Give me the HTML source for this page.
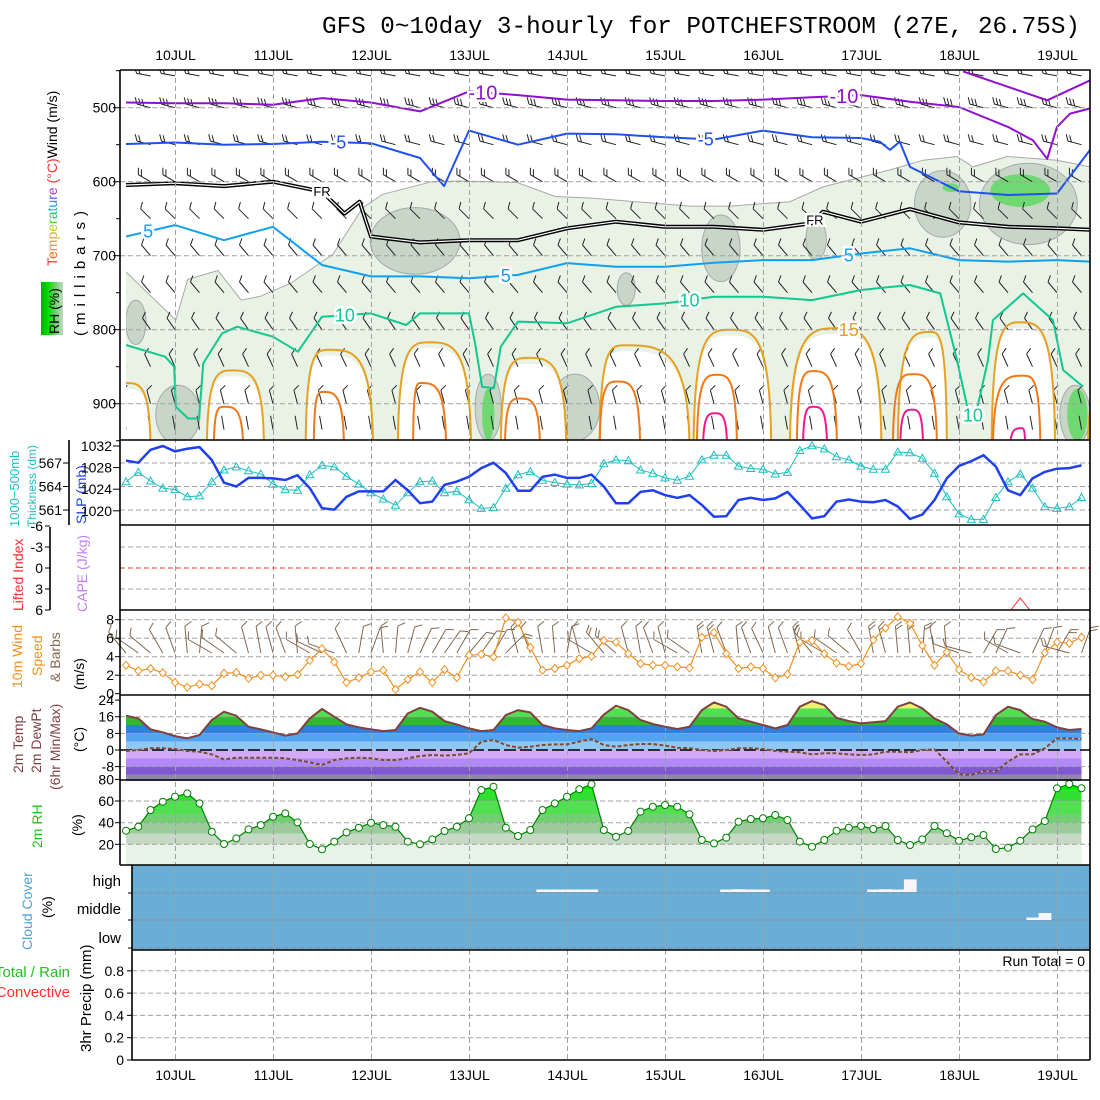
<!DOCTYPE html>
<html><head><meta charset="utf-8">
<style>
body{margin:0;background:#fff;}
svg{display:block;font-family:"Liberation Sans",sans-serif;}
</style></head>
<body>
<svg id="c" width="1100" height="1100" viewBox="0 0 1100 1100" xmlns="http://www.w3.org/2000/svg">
<defs>
  <clipPath id="uclip"><rect x="126" y="70" width="964" height="370"/></clipPath>
  <clipPath id="slpclip"><rect x="120" y="440" width="970" height="85"/></clipPath>
  <clipPath id="liclip"><rect x="120" y="525" width="970" height="85"/></clipPath>
  <linearGradient id="rhg" x1="0" y1="0" x2="1" y2="0">
    <stop offset="0" stop-color="#00b000"/><stop offset="0.35" stop-color="#00e000"/>
    <stop offset="0.65" stop-color="#70d070"/><stop offset="1" stop-color="#c4d8c4"/>
  </linearGradient>
</defs>
<rect x="0" y="0" width="1100" height="1100" fill="#fff"/>
<text x="322" y="33" font-family="'Liberation Mono',monospace" font-size="24" textLength="758" lengthAdjust="spacingAndGlyphs">GFS 0~10day 3-hourly for POTCHEFSTROOM (27E, 26.75S)</text>

<g id="upper"></g>
<g id="lower"></g>
<g id="grid"></g>
<g id="marks"></g>
<g id="frames" fill="none" stroke="#000" stroke-width="1.6">
  <path d="M120,70H1090V1060M120,70V865M120,440H1090M120,525H1090M120,610H1090M120,695H1090M120,780H1090M120,865H1090M132,865V1060H1090M132,950H1090"/>
  <path d="M69,440V525M50,527V610"/>
</g>
<g id="labels" font-size="14">
  <text transform="translate(57,266) rotate(-90)"><tspan fill="#ff3030">T</tspan><tspan fill="#ff6020">e</tspan><tspan fill="#ff9020">m</tspan><tspan fill="#e0b020">p</tspan><tspan fill="#b8d020">e</tspan><tspan fill="#60d040">r</tspan><tspan fill="#20c070">a</tspan><tspan fill="#20b8c8">t</tspan><tspan fill="#2090f0">u</tspan><tspan fill="#5060f0">r</tspan><tspan fill="#a040e0">e</tspan><tspan fill="#ff3030"> (°C)</tspan><tspan fill="#000">Wind (m/s)</tspan></text>
  <rect x="41" y="282" width="22" height="53" fill="url(#rhg)"/>
  <text transform="translate(59,334) rotate(-90)">RH (%)</text>
  <text transform="translate(85,336) rotate(-90)" font-size="15" letter-spacing="6">(millibars)</text>
  <text transform="translate(19,527) rotate(-90)" fill="#20c0c0" font-size="13">1000−500mb</text>
  <text transform="translate(36,527) rotate(-90)" fill="#20c0c0" font-size="12">Thickness (dm)</text>
  <text transform="translate(86,524) rotate(-90)" fill="#2040f0" font-size="14">SLP (mb)</text>
  <text transform="translate(23,611) rotate(-90)" fill="#ff3030">Lifted Index</text>
  <text transform="translate(87,612) rotate(-90)" fill="#c080f0">CAPE (J/kg)</text>
  <text transform="translate(22,688) rotate(-90)" fill="#f09020">10m Wind</text>
  <text transform="translate(42,676) rotate(-90)" fill="#f09020">Speed</text>
  <text transform="translate(60,682) rotate(-90)" fill="#806850">&amp; Barbs</text>
  <text transform="translate(84,690) rotate(-90)">(m/s)</text>
  <text transform="translate(23,773) rotate(-90)" fill="#804040">2m Temp</text>
  <text transform="translate(41,773) rotate(-90)" fill="#804040">2m DewPt</text>
  <text transform="translate(60,790) rotate(-90)" fill="#804040">(6hr Min/Max)</text>
  <text transform="translate(84,752) rotate(-90)">(°C)</text>
  <text transform="translate(42,848) rotate(-90)" fill="#20c020">2m RH</text>
  <text transform="translate(82,836) rotate(-90)">(%)</text>
  <text transform="translate(32,950) rotate(-90)" fill="#50a0d0">Cloud Cover</text>
  <text transform="translate(52,918) rotate(-90)">(%)</text>
  <text x="121" y="886" text-anchor="end" font-size="15">high</text>
  <text x="121" y="914" text-anchor="end" font-size="15">middle</text>
  <text x="121" y="943" text-anchor="end" font-size="15">low</text>
  <text x="70" y="977" text-anchor="end" font-size="15" fill="#20c020">Total / Rain</text>
  <text x="70" y="997" text-anchor="end" font-size="15" fill="#ff3030">Convective</text>
  <text transform="translate(91,1052) rotate(-90)" font-size="15">3hr Precip (mm)</text>
  <text x="1085" y="966" text-anchor="end" font-size="14">Run Total = 0</text>
</g>
<g id="ticks" font-size="14"></g>
</svg>
<script>
// ---------- data ----------
const dates = ["10JUL","11JUL","12JUL","13JUL","14JUL","15JUL","16JUL","17JUL","18JUL","19JUL"];
const slp = [1029.3,1028.9,1031.3,1032,1031,1031.5,1031.8,1029.4,1025.2,1024.5,1026.1,1026.1,1026,1025.7,1026.6,1024.2,1020.5,1020.2,1022.6,1023.6,1023.6,1023.6,1025.7,1023.8,1021.4,1021.7,1024.8,1025.4,1026.3,1027.9,1028.9,1027,1023.7,1023.7,1026.3,1026.7,1026.1,1026.1,1026.7,1024.5,1021.4,1021.4,1023.5,1023.8,1022.9,1022.4,1022.9,1021.1,1018.9,1019,1022,1022.4,1022,1022.3,1023.5,1021.1,1018.6,1019,1021.7,1022.1,1021.7,1021.6,1022,1020.8,1018.5,1019.3,1022,1026,1028.3,1029.2,1030.3,1028.2,1023.8,1022.9,1026,1027.2,1027.8,1027.9,1028.4];
const thick = [564.6,565.8,564.7,563.8,563.6,562.7,562.8,564.6,566.1,566.5,566,565.6,564.3,563.6,563.5,565.5,566.7,566.5,565.3,564.3,563.2,562.4,561.6,563.2,564.6,564.7,563.2,563.4,562.3,561.2,561.3,563.8,565.5,565.9,564.8,564.5,564.3,564.2,564.4,566.9,567.4,567.3,566.1,565.7,565.1,564.8,565.3,567.4,568,568,566.6,566.3,566.2,565.6,565.8,568.6,569.2,568.8,567.8,567.4,566.6,566.2,566.2,568.4,568.3,567.6,565.7,562.7,560.5,559.8,559.8,562.6,564.6,565.6,563.8,561.4,561.2,561.4,562.6];
const liftedIndex = [9,9,9,9,9,9,9,9,9,9,9,9,9,9,9,9,9,9,9,9,9,9,9,9,9,9,9,9,9,9,9,9,9,9,9,9,9,9,9,9,9,9,9,9,9,9,9,9,9,9,9,9,9,9,9,9,9,9,9,9,9,9,9,9,9,9,9,9,9,9,9,9,6.5,4.3,6.5,9,9,9,9];
const wind10 = [3.08,2.48,2.72,2.26,1.22,0.69,1.04,0.86,2.19,2.29,1.65,2.0,2.0,1.83,2.08,3.6,4.86,3.44,1.22,1.72,2.36,2.54,0.46,1.54,2.36,1.22,2.61,1.75,4.15,4.26,3.97,8.2,7.7,5.0,2.54,2.72,3.08,3.79,4.04,5.75,5.57,4.32,3.25,3.08,3.08,2.9,2.79,6.1,6.6,4.32,2.72,2.9,2.72,1.72,2.11,5.57,5.75,4.32,3.32,2.97,3.25,5.82,7.1,8.3,7.6,5.2,3.08,4.5,2.61,1.75,1.29,2.47,2.47,2.0,1.54,4.43,5.57,5.46,6.1];
const windDir10 = [320,305,310,330,340,355,5,300,305,310,345,350,345,340,355,300,295,290,335,10,20,355,5,15,25,30,35,30,40,35,30,45,345,340,350,355,10,345,300,320,310,345,350,340,345,300,305,350,345,340,355,340,335,345,340,345,320,300,305,310,330,350,345,355,355,5,350,355,290,285,30,25,300,290,25,20,30,285,20];
const temp2m = [16.5,15.2,9.9,8.5,6.7,5.6,7.2,14.4,18.4,16.5,11.2,9.9,8.5,6.9,8,15.2,19.7,16,12.3,10.9,9.9,9.1,9.6,17.6,20.3,18.4,13.9,12.3,10.4,9.1,9.6,16.8,19.2,18.1,12,10.4,9.6,9.1,10.4,17,21.3,19.2,14.4,12.5,11.2,10.1,11.2,19.2,22.9,20.8,15.2,13.6,12,10.4,12,20.8,23.5,21.6,15.5,13.9,12.8,13.3,13.9,20.8,22.9,20,15.2,12.3,8,6.9,7.5,16.8,20.8,19.2,14.9,13.6,10.9,9.6,10.1];
const dewpt2m = [-0.5,0,0.8,0.8,0.5,-0.5,-0.8,-2.1,-4.5,-3.7,-3.7,-3.7,-3.7,-4,-4.8,-5.9,-7.2,-4.8,-4,-3.7,-4,-4.8,-4.8,-4,-2.9,-2.4,-2.7,-2.4,-1.6,4,4.8,2.4,1.1,1.6,2.4,2.7,2.7,4,5.3,2.4,1.6,2.4,2.9,2.9,2.1,1.1,0.8,0,-0.5,0,0.8,0.8,0.5,-0.5,-0.8,-1.1,-2.1,-1.6,-1.6,-2.1,-2.4,-2.1,-0.8,-0.8,-1.1,0,0.3,-5.6,-11.7,-12,-10.1,-10.4,-5.6,-2.1,-2.1,0.8,5.6,5.6,5.3];
const rh2m = [32.6,36.3,51.7,59.4,64,67,57.8,31.7,20.3,25.5,33.8,37.8,45.5,48.6,40.3,20.3,15.4,22.5,31,35.4,40,37.8,36.3,22.5,20,24.6,32.3,36.3,44,70.2,73.2,35.4,27.7,33.2,51.7,57.8,64,70.8,75.4,33.2,27.1,32.3,50.2,54.8,56.3,54.8,47.7,24,20.9,26.2,40.9,43.4,44,47.1,42.5,22.5,17.8,24,32.6,35.4,36.9,34.2,36.9,24,19.4,24.6,36.9,30.2,23.4,26.5,28.6,15.7,16.9,23.4,33.8,41.5,71.7,75.7,71.7];
const highCloud = [0,0,0,0,0,0,0,0,0,0,0,0,0,0,0,0,0,0,0,0,0,0,0,0,0,0,0,0,0,0,0,0,0,0,5,5,5,5,5,0,0,0,0,0,0,0,0,0,0,5,10,5,5,0,0,0,0,0,0,0,0,5,10,5,45,0,0,0,0,0,0,0,0,0,0,0,0,0,0];
const midCloud = [0,0,0,0,0,0,0,0,0,0,0,0,0,0,0,0,0,0,0,0,0,0,0,0,0,0,0,0,0,0,0,0,0,0,0,0,0,0,0,0,0,0,0,0,0,0,0,0,0,0,0,0,0,0,0,0,0,0,0,0,0,0,0,0,0,0,0,0,0,0,0,0,0,0,5,25,0,0,0];
const isoM10T = [0,12,24,36,48,60,72,84,96,108,120,132,144,156,168,180,192,204,216,222.1,225.6,228,231.2,236.1];
const isoM10P = [493,494,494,496,487,493,505,478,483,489,490,491,491,489,486,483,492,499,526,544,569,526,508,501];
const isoM15T = [205,225.6,236.1];
const isoM15P = [451,490,463];
const isoM5T = [0,12,24,36,48,60,72,77.9,84,96,108,120,132,144,156,168,180,184.6,187.1,189.5,192,204,216,228,236.1];
const isoM5P = [549,547,550,549,546,548,568,606,531,550,535,536,540,543,531,540,541,546,557,546,580,613,618,616,557];
const frzT = [0,12,24,36,48,53.5,57.2,60,72,84,96,108,120,132,144,156,168,170.7,180,192,204,216,228,236.1];
const frzP = [604.5,602,606,600,613.5,643,627,674,682,679,679,663,654,661,661,665,656,640.5,654,637,655,661,663,665];
const iso5T = [0,12,24,36,48,60,72,84,96,108,120,132,144,156,168,180,192,204,216,228,236.1];
const iso5P = [674,658.6,679,661,712.6,728,728,730.6,726,710,715,715,709.5,706,706,697,690,706,708,706,708];
const iso10T = [0,9.6,11.8,12.2,15.2,17.9,18.9,23.5,27.2,36,42.1,48,60,68.6,72,84,85.5,87.2,90.1,91.8,96,108,120,132,144,156,168,180,192,199.4,203.5,206,207.9,211.1,212.3,219.7,227,229.5,234.4];
const iso10P = [820.7,836.5,850,904,920,920,845.5,805,796,809.5,829.7,782.4,778,793.7,778,778,818.5,877,879,823,789,791.4,769,764.4,755.4,755.4,760,746.4,739.6,751,841,904,920,841,787,751,787,854.5,877];
const loop15Start = [-8,19.8,44,66.6,91.8,116,139,162.6,189,212,235.6];
const loop15Peak = [0,26,49.7,74.2,98.5,122,148,174,197,219,240];
const loop15End = [6,33.8,60.5,84.5,107.8,138,158,185,201,227.5,245];
const loop15Top = [872,855,827,817,838,821,800,798,803,790,880];
const loop20Start = [21.5,46,70.3,92.8,116,139.8,164.3,187.8,212.3];
const loop20Peak = [24,48.2,72.2,96.5,120.3,144.7,168.3,192.7,219.7];
const loop20End = [28.7,53.4,78.4,101.4,125.9,149.6,174.1,198.6,223.9];
const loop20Top = [904,884,872,893,870,861,856,860,862];
const loop25Start = [141.3,165.8,189.6,216.5];
const loop25Peak = [144.3,168.3,192.5,219.4];
const loop25End = [147.2,171.7,195.2,220.2];
const loop25Top = [913,904,908,933];
const moistTopT = [0,12.2,15.1,22.5,28.2,32.8,40.4,50.7,58,62.9,74.9,81.5,95.7,105.1,113.6,138.1,147.9,162.6,170.7,187.1,195.2,203.5,207.4,215.8,228,236.1];
const moistTopP = [722,787,732,720,760,755,737,698,635,617,600,599,601,620,622,633,633,627,607,584,571,566,580,566,571,580];
const humidBlobT = [70.8,12.7,88.7,110,145.7,169,122.5,132,200,221,232.4,2.4];
const humidBlobP = [680,915,905,905,690,678,745,910,630,630,915,790];
const humidBlobRT = [11,5.4,3.2,6,4.7,2.5,2.2,4,6.9,12,3.7,2.5];
const humidBlobRP = [45,40,45,45,45,28,22,22,45,55,40,30];
const wetBlobT = [219,202,233,88.7];
const wetBlobP = [612,608,915,915];
const wetBlobRT = [7.3,2,2.5,1.5];
const wetBlobRP = [22,6,35,35];
const upLevels = [457,500,550,600,650,700,750,800,850,900,935];
const upDir = [280,285,285,300,315,320,320,325,335,345,350];
const upFeathers = [2,3,2,2,1,1,1,1,1,1,0];

// ---------- axes ----------
const NS = 'http://www.w3.org/2000/svg';
const X0 = 126, DX = 12.25;
const xk = k => X0 + k * DX;
const xh = t => X0 + t * DX / 3;
const xDate = i => 175.5 + 98 * i;
const yP = p => 107.7 + (p - 500) * 0.74;
const ySLP = m => 446 + (1032 - m) * 5.4;
const yTh = d => 463 + (567 - d) * 7.83;
const yLI = v => 568 + v * 7;
const yW = v => 693.7 - v * 9.25;
const yT = v => 750 - v * 2.08;
const yRH = v => 866 - v * 1.083;
const yPr = v => 1060 - v * 111.5;

function mk(tag, attrs, parent) {
  const e = document.createElementNS(NS, tag);
  for (const k in attrs) e.setAttribute(k, attrs[k]);
  parent.appendChild(e);
  return e;
}
const f = n => n.toFixed(1);
const pathOf = pts => pts.map((p, i) => (i ? 'L' : 'M') + f(p[0]) + ',' + f(p[1])).join('');
function interp(ts, ps, t) {
  for (let i = 1; i < ts.length; i++) if (t <= ts[i]) { const a = (t - ts[i-1]) / (ts[i] - ts[i-1]); return ps[i-1] + a * (ps[i] - ps[i-1]); }
  return ps[ps.length - 1];
}
const svg = document.getElementById('c');
const defs = svg.querySelector('defs');
const upper = document.getElementById('upper');
const lower = document.getElementById('lower');
const grid = document.getElementById('grid');
const marks = document.getElementById('marks');
const ticks = document.getElementById('ticks');

// ---------- upper panel shading ----------
const ug = mk('g', {'clip-path': 'url(#uclip)'}, upper);


const moistPts = moistTopT.map((t, i) => [xh(t), yP(moistTopP[i])]);
let el = mk('path', {d: pathOf(moistPts) + 'L1095,445L120,445Z', fill: '#e8f3e6', stroke: 'none'}, ug);


el = mk('path', {d: pathOf(moistPts), fill: 'none', stroke: '#a8a8a8', 'stroke-width': 1}, ug);


humidBlobT.forEach((t, i) => {
  const b = mk('ellipse', {cx: f(xh(t)), cy: f(yP(humidBlobP[i])), rx: f(humidBlobRT[i] * DX / 3), ry: f(humidBlobRP[i] * 0.74), fill: '#c8d6c8', stroke: '#a8a8a8', 'stroke-width': 1}, ug);
  
  
});
wetBlobT.forEach((t, i) => {
  const b = mk('ellipse', {cx: f(xh(t)), cy: f(yP(wetBlobP[i])), rx: f(wetBlobRT[i] * DX / 3), ry: f(wetBlobRP[i] * 0.74), fill: '#70d870', stroke: 'none'}, ug);
  
  
});
function arch(ts, tp, te, ptop) {
  const xs = xh(ts), xp = xh(tp), xe = xh(te), yb = yP(965), yt = yP(ptop);
  return `M${f(xs)},${f(yb)}C${f(xs)},${f(yt)} ${f(xs + (xp - xs) * 0.45)},${f(yt)} ${f(xp)},${f(yt)}C${f(xp + (xe - xp) * 0.55)},${f(yt)} ${f(xe)},${f(yt)} ${f(xe)},${f(yb)}`;
}
loop15Start.forEach((s, i) => {
  const w = mk('path', {d: arch(s, loop15Peak[i], loop15End[i], loop15Top[i] + 8) + 'Z', fill: '#fff', stroke: 'none'}, ug);
  
  
});

// ---------- gridlines ----------
dates.forEach((d, i) => {
  const g = mk('line', {x1: xDate(i), x2: xDate(i), y1: 70, y2: 1060, stroke: '#a0a0a0', 'stroke-dasharray': '5,3', 'stroke-width': 1}, grid);
  
  
});
function hgrid(y, x1, col, dash) {
  const g = mk('line', {x1: x1, x2: 1090, y1: f(y), y2: f(y), stroke: col || '#a0a0a0', 'stroke-dasharray': dash || '5,3', 'stroke-width': 1}, grid);
  
  
}
[500,600,700,800,900].forEach(p => hgrid(yP(p), 120));
[567,564,561].forEach(d => hgrid(yTh(d), 120));
[-3,3].forEach(v => hgrid(yLI(v), 120));
hgrid(yLI(0), 120, '#ff3030', '5,3');
[2,4,6,8].forEach(v => hgrid(yW(v), 120));
[16,8,-8].forEach(v => hgrid(yT(v), 120));
[20,40,60].forEach(v => hgrid(yRH(v), 120));
[0.2,0.4,0.6,0.8].forEach(v => hgrid(yPr(v), 132));

// ---------- tick labels ----------
function tick(x, y, txt, anchor, name) {
  const t = mk('text', {x: x, y: f(y + 5), 'text-anchor': anchor || 'end'}, ticks);
  t.textContent = txt;
  
  
}
function tmark(x1, x2, y) {
  const l = mk('line', {x1: x1, x2: x2, y1: f(y), y2: f(y), stroke: '#000', 'stroke-width': 1}, ticks);
  
  
}
dates.forEach((d, i) => { tick(xDate(i), 55, d, 'middle', 'date-label-top'); tick(xDate(i), 1075, d, 'middle', 'date-label-bottom'); tmark(xDate(i), xDate(i), 1060); });
[500,600,700,800,900].forEach(p => tick(116, yP(p), String(p), 'end', 'pressure-tick-label'));
for (let p = 450; p <= 950; p += 50) tmark(p % 100 ? 116 : 113, 120, yP(p));
[1032,1028,1024,1020].forEach(m => { tick(112, ySLP(m), String(m), 'end', 'slp-tick-label'); tmark(113, 120, ySLP(m)); });
[567,564,561].forEach(d => { tick(62, yTh(d), String(d), 'end', 'thickness-tick-label'); tmark(63, 69, yTh(d)); });
[-6,-3,0,3,6].forEach(v => { tick(43, yLI(v), String(v), 'end', 'li-tick-label'); tmark(45, 50, yLI(v)); });
[8,6,4,2,0].forEach(v => { tick(114, yW(v), String(v), 'end', 'wind-tick-label'); tmark(115, 120, yW(v)); });
[24,16,8,0,-8].forEach(v => { tick(114, yT(v), String(v), 'end', 'temp-tick-label'); tmark(115, 120, yT(v)); });
[80,60,40,20].forEach(v => { tick(114, yRH(v), String(v), 'end', 'rh-tick-label'); tmark(115, 120, yRH(v)); });
[0.8,0.6,0.4,0.2,0].forEach(v => { tick(124, yPr(v), String(v), 'end', 'precip-tick-label'); tmark(127, 132, yPr(v)); });
[893,920,948].forEach(y => tmark(128, 132, y));

// ---------- upper wind barbs ----------
function barb(x, y, dir, nf, L, col, parent, fl) {
  const r = dir * Math.PI / 180, vx = Math.sin(r), vy = -Math.cos(r);
  const ex = x + vx * L, ey = y + vy * L;
  const th = Math.atan2(vy, vx) + Math.PI / 3;
  let d = `M${f(x)},${f(y)}L${f(ex)},${f(ey)}`;
  for (let i = 0; i < nf; i++) {
    const bx = ex - vx * i * 3.5, by = ey - vy * i * 3.5;
    d += `M${f(bx)},${f(by)}l${f(Math.cos(th) * fl)},${f(Math.sin(th) * fl)}`;
  }
  return mk('path', {d: d, stroke: col, fill: 'none', 'stroke-width': 1}, parent);
}
const bg = mk('g', {'clip-path': 'url(#uclip)'}, upper);


upLevels.forEach((p, li) => {
  for (let k = 0; k < 79; k += 2) {
    const b = barb(xk(k), yP(p), upDir[li], upFeathers[li], 14, '#222', bg, 7);
    
    
  }
});

// ---------- isotherms ----------
const cg = mk('g', {'clip-path': 'url(#uclip)', fill: 'none', 'stroke-linejoin': 'round'}, upper);


function contour(ts, ps, col, w, name) {
  const c = mk('path', {d: pathOf(ts.map((t, i) => [xh(t), yP(ps[i])])), stroke: col, 'stroke-width': w, fill: 'none'}, cg);
  
  
  return c;
}
loop15Start.forEach((s, i) => {
  const c = mk('path', {d: arch(s, loop15Peak[i], loop15End[i], loop15Top[i]), stroke: '#e8a020', 'stroke-width': 2, fill: 'none'}, cg);
  
  
});
loop20Start.forEach((s, i) => {
  const c = mk('path', {d: arch(s, loop20Peak[i], loop20End[i], loop20Top[i]), stroke: '#f07818', 'stroke-width': 2, fill: 'none'}, cg);
  
  
});
loop25Start.forEach((s, i) => {
  const c = mk('path', {d: arch(s, loop25Peak[i], loop25End[i], loop25Top[i]), stroke: '#f01890', 'stroke-width': 2, fill: 'none'}, cg);
  
  
});
contour(iso10T, iso10P, '#10c890', 2, 'isotherm-10c');
contour(iso5T, iso5P, '#10a0f0', 2, 'isotherm-5c');
contour(frzT, frzP, '#000', 4, 'freezing-level-outer');
contour(frzT, frzP, '#fff', 1.2, 'freezing-level-inner');
contour(isoM5T, isoM5P, '#2050f0', 2, 'isotherm-minus5c');
contour(isoM10T, isoM10P, '#9010d0', 2, 'isotherm-minus10c');
contour(isoM15T, isoM15P, '#9010d0', 2, 'isotherm-minus15c');
function clabel(ts, ps, t, txt, col, size) {
  const x = xh(t), y = yP(interp(ts, ps, t));
  const l = mk('text', {x: f(x), y: f(y + size * 0.35), 'text-anchor': 'middle', fill: col, 'font-size': size, stroke: '#fff', 'stroke-width': 5, 'paint-order': 'stroke'}, upper);
  l.textContent = txt;
  
  
}
clabel(isoM10T, isoM10P, 87.4, '-10', '#9010d0', 20);
clabel(isoM10T, isoM10P, 175.8, '-10', '#9010d0', 20);
clabel(isoM5T, isoM5P, 52, '-5', '#2050f0', 18);
clabel(isoM5T, isoM5P, 142, '-5', '#2050f0', 18);
clabel(frzT, frzP, 48, 'FR', '#000', 13);
clabel(frzT, frzP, 168.7, 'FR', '#000', 13);
clabel(iso5T, iso5P, 5.4, '5', '#10a0f0', 18);
clabel(iso5T, iso5P, 93, '5', '#10a0f0', 18);
clabel(iso5T, iso5P, 177, '5', '#10a0f0', 18);
clabel(iso10T, iso10P, 53.6, '10', '#10c890', 18);
clabel(iso10T, iso10P, 138, '10', '#10c890', 18);
clabel(iso10T, iso10P, 207.4, '10', '#10c890', 18);
clabel(iso10T, [...iso10P].map(() => 800), 177, '15', '#e8a020', 18);

// ---------- SLP / thickness ----------
const sg = mk('g', {'clip-path': 'url(#slpclip)'}, marks);


el = mk('path', {d: pathOf(thick.map((v, k) => [xk(k), yTh(v)])), stroke: '#20c0c0', 'stroke-width': 1, fill: 'none'}, sg);


thick.forEach((v, k) => {
  const x = xk(k), y = yTh(v);
  const m = mk('path', {d: `M${f(x)},${f(y - 4)}L${f(x + 4)},${f(y + 3)}L${f(x - 4)},${f(y + 3)}Z`, stroke: '#20c0c0', fill: 'none', 'stroke-width': 1}, sg);
  
  
});
el = mk('path', {d: pathOf(slp.map((v, k) => [xk(k), ySLP(v)])), stroke: '#2040f0', 'stroke-width': 2.5, fill: 'none'}, sg);



// ---------- lifted index ----------
const lg = mk('g', {'clip-path': 'url(#liclip)'}, marks);


el = mk('path', {d: pathOf(liftedIndex.map((v, k) => [xk(k), yLI(v)])), stroke: '#ff3030', 'stroke-width': 1, fill: 'none'}, lg);



// ---------- 10m wind ----------
windDir10.forEach((d, k) => {
  const b = barb(xk(k), 653, d, wind10[k] > 5 ? 2 : 1, 27, '#806850', marks, 8);
  
  
});
el = mk('path', {d: pathOf(wind10.map((v, k) => [xk(k), yW(v)])), stroke: '#f09020', 'stroke-width': 1.2, fill: 'none'}, marks);


wind10.forEach((v, k) => {
  const x = xk(k), y = yW(v);
  const m = mk('path', {d: `M${f(x)},${f(y - 4)}L${f(x + 3.5)},${f(y)}L${f(x)},${f(y + 4)}L${f(x - 3.5)},${f(y)}Z`, stroke: '#f09020', fill: '#fff', 'stroke-width': 1}, marks);
  
  
});

// ---------- 2m temperature ----------
const tcp = mk('clipPath', {id: 'tclip'}, defs);
mk('path', {d: 'M' + f(xk(0)) + ',781' + pathOf(temp2m.map((v, k) => [xk(k), yT(v)])).replace('M', 'L') + 'L' + f(xk(78)) + ',781Z'}, tcp);
const tg = mk('g', {'clip-path': 'url(#tclip)'}, lower);


const tBands = [[20,28,'#f0f070'],[16,20,'#50e050'],[12,16,'#30b830'],[8,12,'#2a80e8'],[4,8,'#50a4f0'],[0,4,'#90c8f4'],[-4,0,'#d2aaf8'],[-8,-4,'#b088f8'],[-12,-8,'#8058d0'],[-20,-12,'#9088a8']];
tBands.forEach(b => {
  const r = mk('rect', {x: 120, y: f(yT(b[1])), width: 970, height: f(yT(b[0]) - yT(b[1])), fill: b[2]}, tg);
  
  
});
el = mk('line', {x1: 120, x2: 1090, y1: yT(0), y2: yT(0), stroke: '#000', 'stroke-width': 1.5, 'stroke-dasharray': '12,4'}, marks);


el = mk('path', {d: pathOf(dewpt2m.map((v, k) => [xk(k), yT(v)])), stroke: '#ccc', 'stroke-width': 1, fill: 'none'}, marks);


el = mk('path', {d: pathOf(dewpt2m.map((v, k) => [xk(k), yT(v)])), stroke: '#7a4a3a', 'stroke-width': 2, 'stroke-dasharray': '4,2', fill: 'none'}, marks);


el = mk('path', {d: pathOf(temp2m.map((v, k) => [xk(k), yT(v)])), stroke: '#804040', 'stroke-width': 2, fill: 'none'}, marks);



// ---------- 2m RH ----------
const rcp = mk('clipPath', {id: 'rclip'}, defs);
mk('path', {d: 'M' + f(xk(0)) + ',866' + pathOf(rh2m.map((v, k) => [xk(k), yRH(v)])).replace('M', 'L') + 'L' + f(xk(78)) + ',866Z'}, rcp);
const rg = mk('g', {'clip-path': 'url(#rclip)'}, lower);


const rhBands = [[0,20,'#e8f3e8'],[20,30,'#c6d8c6'],[30,40,'#9ccc9c'],[40,48,'#72d072'],[48,60,'#50e050'],[60,70,'#30e030'],[70,76,'#00ee00'],[76,100,'#00c800']];
rhBands.forEach(b => {
  const r = mk('rect', {x: 120, y: f(yRH(b[1])), width: 970, height: f(yRH(b[0]) - yRH(b[1])), fill: b[2]}, rg);
  
  
});
el = mk('path', {d: pathOf(rh2m.map((v, k) => [xk(k), yRH(v)])), stroke: '#008000', 'stroke-width': 1.2, fill: 'none'}, marks);


rh2m.forEach((v, k) => {
  const c = mk('circle', {cx: f(xk(k)), cy: f(yRH(v)), r: 3.5, fill: '#fff', stroke: '#008000', 'stroke-width': 1}, marks);
  
  
});

// ---------- cloud cover ----------
el = mk('rect', {x: 132, y: 865, width: 958, height: 85, fill: '#6aaed6'}, lower);


[893,920,948].forEach(y => {
  const g = mk('line', {x1: 132, x2: 1090, y1: y, y2: y, stroke: '#8a8a9a', 'stroke-dasharray': '5,3', 'stroke-width': 1}, grid);
  
  
});
function cloudBars(arr, base, name) {
  arr.forEach((v, k) => {
    if (!v) return;
    const h = Math.max(2.5, v * 0.28);
    const r = mk('rect', {x: f(xk(k) - DX / 2), y: f(base - h), width: f(DX + 0.5), height: f(h), fill: '#f8f4fa'}, marks);
    
    
  });
}
cloudBars(highCloud, 892, 'high-cloud-bar');
cloudBars(midCloud, 920, 'middle-cloud-bar');
</script>
</body></html>
